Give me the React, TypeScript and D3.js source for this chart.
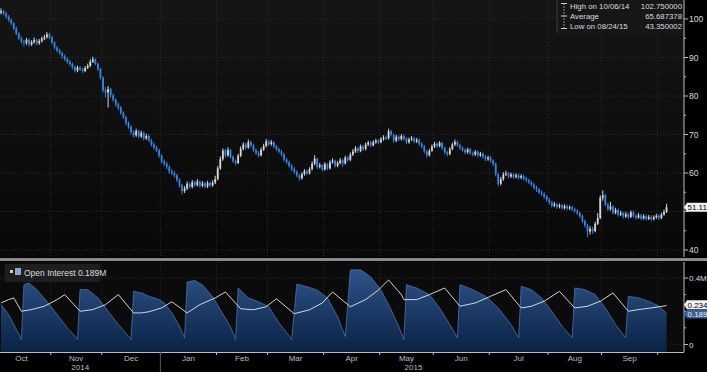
import React from "react";
import * as d3 from "d3";

// ---------- DATA ----------
const closes = [
  102.0,101.5,100.6,99.8,98.9,97.6,96.2,95.0,94.1,93.8,
  94.6,93.4,94.0,94.5,93.7,94.3,94.9,95.3,96.0,95.2,
  93.9,92.6,91.8,91.2,90.3,89.6,88.9,88.3,87.5,86.6,
  87.4,87.0,86.5,87.3,87.8,88.9,89.5,88.4,87.0,84.8,
  81.5,80.9,81.8,80.2,79.0,77.8,77.0,75.6,74.5,73.0,
  72.0,70.6,69.8,70.9,69.5,70.4,69.0,69.6,68.5,67.4,
  66.6,65.9,64.5,63.0,62.4,61.6,60.4,60.0,59.4,58.2,
  56.8,55.3,56.0,57.2,56.4,57.6,56.9,57.8,56.7,57.3,
  56.5,57.4,56.8,57.5,58.4,61.2,63.6,65.8,64.6,66.0,
  64.2,63.1,62.6,64.5,66.3,67.4,66.6,68.0,67.2,66.0,
  65.2,64.6,66.1,67.0,68.2,67.5,68.0,66.9,66.2,65.6,
  64.8,63.5,62.8,61.9,61.0,60.3,59.4,58.6,59.7,60.5,
  59.9,61.0,62.4,63.7,61.6,62.0,60.9,62.3,61.2,62.8,
  63.2,61.9,62.6,63.3,62.5,64.0,63.4,64.8,65.6,66.4,
  65.7,66.9,66.2,67.4,67.9,67.2,68.0,68.4,68.0,68.8,
  69.2,69.0,70.8,70.0,68.4,69.4,68.8,69.6,68.9,68.0,
  68.7,69.0,68.2,68.6,67.6,66.9,65.6,64.6,65.8,66.9,
  67.6,67.0,67.8,66.5,65.4,64.9,66.2,67.4,68.1,67.2,
  66.5,66.0,65.4,66.1,65.2,64.8,65.5,64.6,65.0,64.2,
  63.6,64.0,63.2,62.4,59.6,57.2,58.4,59.6,59.9,59.1,
  59.6,59.0,59.4,58.8,59.2,58.6,58.1,57.6,57.0,56.2,
  55.7,55.0,54.6,53.9,53.1,52.4,51.5,51.9,51.2,51.6,
  50.9,51.4,50.8,51.1,50.6,50.2,49.6,48.8,47.5,46.4,
  44.8,45.5,44.9,46.8,48.3,53.6,54.2,51.8,50.6,51.3,
  49.7,50.4,49.2,49.6,48.7,49.3,48.6,49.8,48.9,48.4,
  49.0,48.2,48.8,48.1,48.6,48.0,48.5,48.9,48.3,49.2,
  49.9,51.11,
];
const opens = [
  101.6,102.0,101.5,100.6,99.8,98.9,97.6,96.2,95.0,94.1,
  93.8,94.6,93.4,94.0,94.5,93.7,94.3,94.9,95.3,96.0,
  95.2,93.9,92.6,91.8,91.2,90.3,89.6,88.9,88.3,87.5,
  86.6,87.4,87.0,86.5,87.3,87.8,88.9,89.5,88.4,87.0,
  84.8,81.5,80.9,81.8,80.2,79.0,77.8,77.0,75.6,74.5,
  73.0,72.0,70.6,69.8,70.9,69.5,70.4,69.0,69.6,68.5,
  67.4,66.6,65.9,64.5,63.0,62.4,61.6,60.4,60.0,59.4,
  58.2,56.8,55.3,56.0,57.2,56.4,57.6,56.9,57.8,56.7,
  57.3,56.5,57.4,56.8,57.5,58.4,61.2,63.6,65.8,64.6,
  66.0,64.2,63.1,62.6,64.5,66.3,67.4,66.6,68.0,67.2,
  66.0,65.2,64.6,66.1,67.0,68.2,67.5,68.0,66.9,66.2,
  65.6,64.8,63.5,62.8,61.9,61.0,60.3,59.4,58.6,59.7,
  60.5,59.9,61.0,62.4,63.7,61.6,62.0,60.9,62.3,61.2,
  62.8,63.2,61.9,62.6,63.3,62.5,64.0,63.4,64.8,65.6,
  66.4,65.7,66.9,66.2,67.4,67.9,67.2,68.0,68.4,68.0,
  68.8,69.2,69.0,70.8,70.0,68.4,69.4,68.8,69.6,68.9,
  68.0,68.7,69.0,68.2,68.6,67.6,66.9,65.6,64.6,65.8,
  66.9,67.6,67.0,67.8,66.5,65.4,64.9,66.2,67.4,68.1,
  67.2,66.5,66.0,65.4,66.1,65.2,64.8,65.5,64.6,65.0,
  64.2,63.6,64.0,63.2,62.4,59.6,57.2,58.4,59.6,59.9,
  59.1,59.6,59.0,59.4,58.8,59.2,58.6,58.1,57.6,57.0,
  56.2,55.7,55.0,54.6,53.9,53.1,52.4,51.5,51.9,51.2,
  51.6,50.9,51.4,50.8,51.1,50.6,50.2,49.6,48.8,47.5,
  46.4,44.8,45.5,44.9,46.8,48.3,53.6,54.2,51.8,50.6,
  51.3,49.7,50.4,49.2,49.6,48.7,49.3,48.6,49.8,48.9,
  48.4,49.0,48.2,48.8,48.1,48.6,48.0,48.5,48.9,48.3,
  49.2,49.9,
];
const highs = [
  102.75,102.4,101.9,101.0,100.1,99.2,98.0,96.6,95.5,94.6,
  95.1,95.0,94.5,95.2,94.9,94.8,95.4,95.9,96.6,96.4,
  95.6,94.2,93.0,92.3,91.6,90.8,90.0,89.4,88.7,87.9,
  87.9,87.8,87.4,87.8,88.4,89.5,90.2,89.8,88.7,87.3,
  85.1,82.3,82.6,82.1,80.6,79.4,78.3,77.4,76.0,74.9,
  73.4,72.4,71.1,71.5,71.3,71.0,70.8,70.2,70.0,68.9,
  67.9,67.1,66.3,64.9,63.5,62.9,62.0,61.0,60.5,59.8,
  58.6,57.2,56.6,57.8,57.6,58.2,58.0,58.4,58.1,57.9,
  57.7,58.0,57.8,58.1,59.3,61.8,64.3,66.4,66.3,66.7,
  66.3,64.6,63.6,65.0,66.9,68.0,67.9,68.7,68.4,67.6,
  66.4,65.7,66.6,67.6,68.8,68.6,68.6,68.3,67.3,66.6,
  66.0,65.2,63.9,63.2,62.3,61.5,60.7,59.8,60.2,61.0,
  60.9,61.5,63.0,64.6,64.0,62.6,62.3,62.8,62.6,63.3,
  63.8,63.5,63.1,63.9,63.7,64.5,64.4,65.3,66.2,67.0,
  66.8,67.4,67.3,67.9,68.4,68.3,68.5,68.9,68.8,69.3,
  69.8,69.7,71.5,71.2,70.3,69.9,69.8,70.1,70.0,69.3,
  69.2,69.6,69.4,69.1,69.0,68.0,67.3,66.0,66.3,67.4,
  68.1,68.0,68.3,68.1,66.9,65.8,66.7,67.9,68.7,68.4,
  67.6,66.9,66.4,66.6,66.5,65.6,66.0,65.9,65.5,65.4,
  64.6,64.5,64.4,63.6,62.7,60.0,59.0,60.2,60.6,60.3,
  60.1,60.0,59.9,59.8,59.7,59.6,59.0,58.5,58.0,57.4,
  56.7,56.1,55.5,55.0,54.3,53.5,52.8,52.5,52.3,52.1,
  52.0,51.9,51.8,51.6,51.5,51.0,50.6,50.0,49.2,47.9,
  46.8,46.2,46.0,47.3,49.6,54.2,55.5,54.6,52.3,52.5,
  51.7,51.0,50.8,50.2,50.0,49.9,49.7,50.3,50.2,49.3,
  49.6,49.4,49.3,49.2,49.1,49.0,49.0,49.4,49.3,49.7,
  50.5,52.0,
];
const lows = [
  101.2,101.0,100.2,99.3,98.4,97.1,95.8,94.5,93.6,92.9,
  93.3,92.8,93.0,93.6,93.2,93.3,93.9,94.5,94.9,94.8,
  93.4,92.1,91.3,90.7,89.8,89.1,88.4,87.8,86.9,86.1,
  86.2,86.5,86.0,86.2,87.0,87.5,88.6,88.0,86.5,84.3,
  80.9,79.6,77.0,79.6,78.5,77.3,76.4,75.1,74.0,72.4,
  71.5,70.0,69.2,69.4,69.0,69.1,68.5,68.6,68.0,66.9,
  66.1,65.4,64.0,62.5,61.8,61.0,59.8,59.4,58.8,57.6,
  56.2,54.4,54.8,55.6,55.9,56.0,56.4,56.5,56.2,56.3,
  56.0,56.1,56.3,56.4,57.1,58.1,60.8,63.2,64.0,64.2,
  63.7,62.6,62.0,62.3,64.1,65.9,66.1,66.3,66.7,65.5,
  64.7,64.1,64.3,65.7,66.7,67.0,67.1,66.4,65.7,65.1,
  64.3,63.0,62.3,61.4,60.5,59.8,58.9,58.0,58.3,59.3,
  59.4,59.6,60.7,62.0,61.1,61.2,60.4,60.6,60.7,60.9,
  62.4,61.4,61.5,62.2,61.6,62.2,62.9,63.1,64.4,65.2,
  65.2,65.4,65.7,65.9,67.0,66.7,66.9,67.6,67.5,67.7,
  68.4,68.5,68.7,69.5,67.9,68.0,68.3,68.4,68.4,67.5,
  67.6,68.3,67.7,67.8,67.1,66.4,65.1,64.0,64.3,65.5,
  66.5,66.5,66.7,66.0,64.9,64.3,64.6,65.9,67.0,66.8,
  66.0,65.5,64.9,65.0,64.7,64.3,64.4,64.1,64.2,63.7,
  63.1,63.2,62.7,61.8,59.1,56.5,56.8,58.0,59.2,58.6,
  58.7,58.5,58.6,58.3,58.4,58.1,57.6,57.1,56.5,55.7,
  55.1,54.5,54.0,53.3,52.6,51.8,51.0,51.1,50.7,50.8,
  50.4,50.5,50.3,50.4,50.1,49.7,49.1,48.3,47.0,45.8,
  43.35,44.0,44.2,44.6,46.5,48.0,52.8,51.3,50.1,50.2,
  49.2,49.3,48.7,48.8,48.2,48.3,48.1,48.3,48.4,47.9,
  48.1,47.7,47.9,47.6,47.8,47.5,47.7,48.1,47.8,48.0,
  48.9,49.6,
];

// Open interest (millions): trading-day index and value
const oiIdx = [0,3,5,7,8,9,11,14,18,22,26,29,30,31,34,38,42,46,50,51,52,55,58,62,64,67,70,72,73,76,79,83,86,90,92,93,97,101,105,109,114,116,120,124,128,132,135,137,141,145,149,153,156,158,159,163,168,172,176,179,180,185,190,195,200,203,204,208,212,216,220,224,225,229,233,237,241,245,246,250,254,258,261];
const oiVal = [0.24,0.18,0.12,0.06,0.03,0.36,0.37,0.33,0.26,0.18,0.10,0.05,0.03,0.33,0.33,0.28,0.20,0.12,0.05,0.03,0.32,0.31,0.29,0.27,0.25,0.19,0.11,0.04,0.376,0.385,0.358,0.287,0.209,0.107,0.03,0.34,0.28,0.257,0.227,0.13,0.03,0.364,0.347,0.328,0.28,0.167,0.048,0.448,0.45,0.406,0.328,0.209,0.107,0.03,0.36,0.34,0.30,0.22,0.12,0.04,0.36,0.33,0.29,0.22,0.12,0.04,0.35,0.33,0.28,0.20,0.11,0.04,0.34,0.33,0.30,0.22,0.12,0.04,0.29,0.28,0.26,0.23,0.189];
// white average line
const avgIdx = [0,3,5,8,12,17,22,25,31,36,41,46,52,55,58,63,67,73,78,84,88,94,99,104,108,115,121,126,130,137,143,148,152,157,158,163,168,174,180,186,192,198,204,208,213,219,225,230,235,240,246,250,255,261];
const avgVal = [0.25,0.27,0.28,0.20,0.21,0.23,0.27,0.30,0.20,0.21,0.24,0.30,0.19,0.19,0.197,0.22,0.257,0.19,0.24,0.28,0.316,0.215,0.209,0.227,0.275,0.185,0.209,0.25,0.316,0.227,0.27,0.328,0.388,0.30,0.27,0.27,0.30,0.34,0.23,0.25,0.29,0.33,0.22,0.23,0.26,0.32,0.22,0.23,0.26,0.31,0.20,0.21,0.22,0.234];

const priceMajor = [100, 90, 80, 70, 60, 50, 40];
const priceMinor = [95, 85, 75, 65, 55, 45];
const oiMajor = [0.4, 0];
const oiMinor = [0.1, 0.2, 0.3];
const monthNames = ["Oct","Nov","Dec","Jan","Feb","Mar","Apr","May","Jun","Jul","Aug","Sep"];
const legendRows = [
  { label: "High on 10/06/14", value: "102.750000" },
  { label: "Average", value: "65.687378" },
  { label: "Low on 08/24/15", value: "43.350002" },
];
const lastPrice = 51.11;
const lastOI = 0.189;
const lastAvg = 0.234;

// ---------- LAYOUT ----------
const W = 707, H = 372;
const PR = 684; // right edge of plotting area
const P1 = { top: 0, bottom: 257 };
const P2 = { top: 262, bottom: 352 };
const FONT = "'Liberation Sans', Arial, sans-serif";

function weekdays() {
  const out: { d: Date; i: number }[] = [];
  let i = -3;
  for (let d = new Date(2014, 9, 1); d <= new Date(2015, 9, 31); d = new Date(d.getFullYear(), d.getMonth(), d.getDate() + 1)) {
    const wd = d.getDay();
    if (wd === 0 || wd === 6) continue;
    out.push({ d, i });
    i++;
  }
  return out;
}

function Tag({ yc, fill, color, text }: { yc: number; fill: string; color: string; text: string }) {
  return (
    <g>
      <path d={`M${PR},${yc} L${PR + 3},${yc - 4.5} H${W} V${yc + 4.5} H${PR + 3} Z`} fill={fill} />
      <text x={PR + 3.5} y={yc + 3} fill={color} fontSize={8}>{text}</text>
    </g>
  );
}

export default function App() {
  const x = d3.scaleLinear().domain([0, 268]).range([1, 1 + 268 * 2.55]);
  const y = d3.scaleLinear().domain([100, 40]).range([19, 250]);
  const yo = d3.scaleLinear().domain([0, 0.4]).range([344.5, 278]);

  const days = weekdays();
  const groups = d3.groups(days, (e) => e.d.getFullYear() * 12 + e.d.getMonth());
  const months = groups.map(([, arr]) => ({
    lo: d3.min(arr, (e) => e.i) as number,
    hi: d3.max(arr, (e) => e.i) as number,
    year: arr[0].d.getFullYear(),
  }));
  const labelMonths = months.slice(0, 12);
  const boundaries = months.slice(1, 13).map((m) => m.lo - 0.5);
  const yearBoundary = months.find((m) => m.year === 2015)!.lo - 0.5;
  const lastIdx = closes.length - 1;

  const candles = closes.map((c, i) => ({ i, o: opens[i], h: highs[i], l: lows[i], c }));
  const cw = 1.8;

  const oiPts = oiIdx.map((k, j) => [k, oiVal[j]] as [number, number]);
  const avgPts = avgIdx.map((k, j) => [k, avgVal[j]] as [number, number]);
  const area = d3.area<[number, number]>().x((d) => x(d[0])).y0(P2.bottom).y1((d) => yo(d[1]));
  const topLine = d3.line<[number, number]>().x((d) => x(d[0])).y((d) => yo(d[1]));

  const UP = "#d6d6d6";
  const DOWN = "#3584e4";
  const GRID = "#2c2c2c";

  const avgTagY = yo(lastAvg) - 0.8;
  const oiTagY = yo(lastOI) + 1;

  return (
    <svg width={W} height={H} style={{ position: "absolute", left: 0, top: 0, background: "#000" }} fontFamily={FONT}>
      <defs>
        <linearGradient id="bg1" x1="0" y1="0" x2="0" y2="1">
          <stop offset="0" stopColor="#151515" />
          <stop offset="1" stopColor="#080808" />
        </linearGradient>
        <linearGradient id="oiFill" gradientUnits="userSpaceOnUse" x1="0" y1={270} x2="0" y2={P2.bottom}>
          <stop offset="0" stopColor="#2e5388" />
          <stop offset="1" stopColor="#0a2245" />
        </linearGradient>
        <clipPath id="c1"><rect x={0} y={P1.top} width={PR} height={P1.bottom - P1.top} /></clipPath>
        <clipPath id="c2"><rect x={0} y={P2.top} width={PR} height={P2.bottom - P2.top} /></clipPath>
      </defs>

      {/* ----- price panel ----- */}
      <rect x={0} y={P1.top} width={PR} height={P1.bottom - P1.top} fill="url(#bg1)" />
      {priceMajor.map((p) => (
        <line key={"hg" + p} x1={0} x2={PR} y1={y(p)} y2={y(p)} stroke={GRID} strokeDasharray="1,2" />
      ))}
      {boundaries.map((b, k) => (
        <line key={"vg" + k} x1={x(b)} x2={x(b)} y1={P1.top} y2={P1.bottom} stroke={GRID} strokeDasharray="1,2" />
      ))}
      <g clipPath="url(#c1)">
        {candles.map((d) => {
          const col = d.c >= d.o ? UP : DOWN;
          const top = y(Math.max(d.o, d.c));
          const bh = Math.max(1, Math.abs(y(d.o) - y(d.c)));
          return (
            <g key={d.i}>
              <line x1={x(d.i)} x2={x(d.i)} y1={y(d.h)} y2={y(d.l)} stroke={col} strokeWidth={1} />
              <rect x={x(d.i) - cw / 2} y={top} width={cw} height={bh} fill={col} />
            </g>
          );
        })}
      </g>

      {/* legend top right */}
      <rect x={557} y={0} width={PR - 557} height={33} fill="#161616" />
      <line x1={557} x2={557} y1={0} y2={33} stroke="#3a3a3a" />
      <line x1={564} x2={564} y1={3} y2={29} stroke="#888" strokeDasharray="2,1" />
      <line x1={561} x2={567} y1={3.5} y2={3.5} stroke="#ccc" />
      <line x1={561} x2={567} y1={16} y2={16} stroke="#ccc" />
      <line x1={561} x2={567} y1={28.5} y2={28.5} stroke="#ccc" />
      {legendRows.map((r, k) => (
        <g key={r.label} fill="#dcdcdc" fontSize={7.8}>
          <text x={570} y={9 + k * 10}>{r.label}</text>
          <text x={PR - 2} y={9 + k * 10} textAnchor="end">{r.value}</text>
        </g>
      ))}

      {/* price axis */}
      <line x1={PR} x2={PR} y1={P1.top} y2={P1.bottom} stroke="#bdbdbd" />
      {priceMinor.map((p) => (
        <line key={"mi" + p} x1={PR} x2={PR + 2} y1={y(p)} y2={y(p)} stroke="#bdbdbd" />
      ))}
      {priceMajor.map((p) => (
        <g key={"ma" + p}>
          <line x1={PR} x2={PR + 4} y1={y(p)} y2={y(p)} stroke="#bdbdbd" />
          {Math.abs(p - lastPrice) > 3 && (
            <text x={PR + 5} y={y(p) + 3} fill="#dcdcdc" fontSize={8.5}>{p}</text>
          )}
        </g>
      ))}
      <Tag yc={y(lastPrice)} fill="#f2f2f2" color="#000" text={lastPrice.toFixed(2)} />

      {/* separator */}
      <rect x={0} y={P1.bottom + 1} width={W} height={3} fill="#8a8a8a" />

      {/* ----- open interest panel ----- */}
      <rect x={0} y={P2.top} width={PR} height={P2.bottom - P2.top} fill="#0b0b0b" />
      {oiMajor.map((v) => (
        <line key={"og" + v} x1={0} x2={PR} y1={yo(v)} y2={yo(v)} stroke={GRID} strokeDasharray="1,2" />
      ))}
      {boundaries.map((b, k) => (
        <line key={"vg2" + k} x1={x(b)} x2={x(b)} y1={P2.top} y2={P2.bottom} stroke={GRID} strokeDasharray="1,2" />
      ))}
      <g clipPath="url(#c2)">
        <path d={area(oiPts) || ""} fill="url(#oiFill)" />
        <path d={topLine(oiPts) || ""} fill="none" stroke="#4d70a8" strokeWidth={0.8} />
        <path d={topLine(avgPts) || ""} fill="none" stroke="#e8e8e8" strokeWidth={0.9} />
      </g>

      {/* OI legend */}
      <rect x={5} y={264} width={95} height={18} fill="#1e1e1e" />
      <rect x={10} y={270} width={3} height={3} fill="#cfcfcf" />
      <rect x={15} y={268} width={6} height={7} fill="#8ea6cf" />
      <text x={24} y={276} fill="#dcdcdc" fontSize={8.5}>Open Interest {lastOI}M</text>

      {/* OI axis */}
      <line x1={PR} x2={PR} y1={P2.top} y2={P2.bottom} stroke="#bdbdbd" />
      {oiMinor.map((v) => (
        <line key={"omi" + v} x1={PR} x2={PR + 2} y1={yo(v)} y2={yo(v)} stroke="#bdbdbd" />
      ))}
      {oiMajor.map((v) => (
        <g key={"oma" + v}>
          <line x1={PR} x2={PR + 4} y1={yo(v)} y2={yo(v)} stroke="#bdbdbd" />
          <text x={PR + 5} y={yo(v) + 3} fill="#dcdcdc" fontSize={8}>{v === 0 ? "0" : v + "M"}</text>
        </g>
      ))}
      <Tag yc={avgTagY} fill="#f2f2f2" color="#000" text={lastAvg.toFixed(3)} />
      <Tag yc={oiTagY} fill="#3d5f93" color="#e8eefa" text={lastOI.toFixed(3)} />

      {/* ----- time axis ----- */}
      <line x1={0} x2={PR} y1={P2.bottom + 0.5} y2={P2.bottom + 0.5} stroke="#bdbdbd" />
      {boundaries.map((b, k) => (
        <line key={"xt" + k} x1={x(b)} x2={x(b)} y1={P2.bottom} y2={P2.bottom + 3} stroke="#bdbdbd" />
      ))}
      <line x1={x(yearBoundary)} x2={x(yearBoundary)} y1={P2.bottom} y2={H} stroke="#5a5a5a" />
      {labelMonths.map((m, k) => (
        <text key={"ml" + k} x={x((m.lo + m.hi) / 2)} y={361} fill="#bdbdbd" fontSize={8} textAnchor="middle">
          {monthNames[k]}
        </text>
      ))}
      <text x={(0 + x(yearBoundary)) / 2} y={370} fill="#bdbdbd" fontSize={8} textAnchor="middle">2014</text>
      <text x={(x(yearBoundary) + x(lastIdx)) / 2} y={370} fill="#bdbdbd" fontSize={8} textAnchor="middle">2015</text>
    </svg>
  );
}
